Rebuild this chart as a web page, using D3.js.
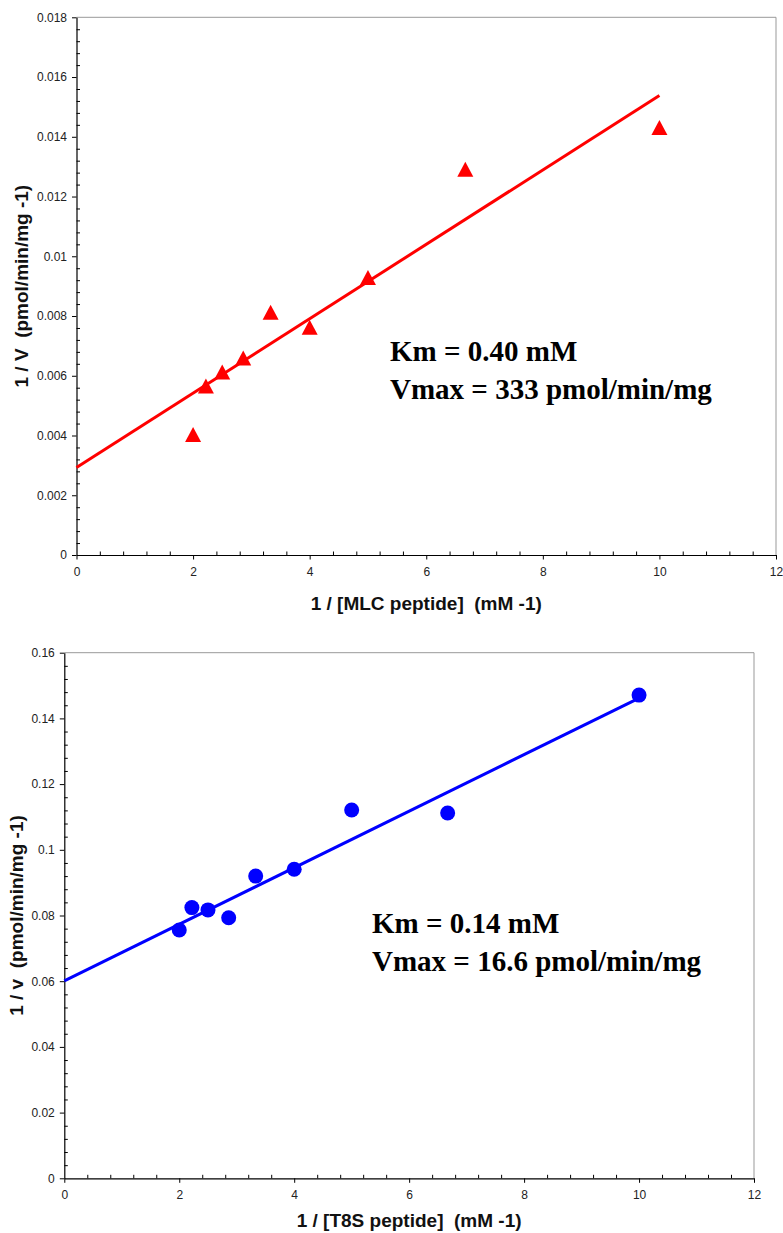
<!DOCTYPE html>
<html><head><meta charset="utf-8">
<script src="https://cdn.jsdelivr.net/npm/d3@7"></script>
<style>
body{margin:0;background:#fff;}
svg{display:block;}
.tick text{font-family:"Liberation Sans",Arial,sans-serif;font-size:12px;fill:#222;}
.atitle{font-family:"Liberation Sans",Arial,sans-serif;font-size:19px;font-weight:bold;fill:#111;}
.annot{font-family:"Liberation Serif","Times New Roman",serif;font-size:29px;font-weight:bold;fill:#000;}
</style>
</head><body>
<svg id="chart" width="783" height="1233"></svg>
<script>
// ---- Data ----
const xValsMLC = [2, 2.22, 2.5, 2.86, 3.33, 4, 5, 6.67, 10];
const yValsMLC = [0.0040, 0.00562, 0.00609, 0.00656, 0.00809, 0.00759, 0.00926, 0.01288, 0.01428];
const fitMLC = [[0, 0.00293], [10, 0.01538]];
const xTicksMLC = [0, 2, 4, 6, 8, 10, 12];
const yTicksMLC = [0, 0.002, 0.004, 0.006, 0.008, 0.01, 0.012, 0.014, 0.016, 0.018];
const annotMLC = ["Km = 0.40 mM", "Vmax = 333 pmol/min/mg"];

const xValsT8S = [2, 2.22, 2.5, 2.86, 3.33, 4, 5, 6.67, 10];
const yValsT8S = [0.0756, 0.0824, 0.0817, 0.0793, 0.0920, 0.0941, 0.1121, 0.1112, 0.1471];
const fitT8S = [[0, 0.0601], [10, 0.1462]];
const xTicksT8S = [0, 2, 4, 6, 8, 10, 12];
const yTicksT8S = [0, 0.02, 0.04, 0.06, 0.08, 0.1, 0.12, 0.14, 0.16];
const annotT8S = ["Km = 0.14 mM", "Vmax = 16.6 pmol/min/mg"];

const svg = d3.select("#chart");

function panel(cfg){
  const g = svg.append("g");
  const x = d3.scaleLinear().domain([0,12]).range([cfg.x0, cfg.x1]);
  const y = d3.scaleLinear().domain([0,cfg.ymax]).range([cfg.y0, cfg.y1]);
  g.append("line").attr("x1",cfg.x0).attr("x2",cfg.x1).attr("y1",cfg.y1).attr("y2",cfg.y1).attr("stroke","#999").attr("stroke-width",1);
  g.append("line").attr("x1",cfg.x1).attr("x2",cfg.x1).attr("y1",cfg.y1).attr("y2",cfg.y0).attr("stroke","#999").attr("stroke-width",1);
  const xMinor = d3.range(0, 12.0001, 0.4).filter(v => Math.abs(v/2 - Math.round(v/2)) > 1e-6);
  const yMinor = d3.range(0, cfg.ymax*1.0001, cfg.yminor).filter(v => Math.abs(v/cfg.ystep - Math.round(v/cfg.ystep)) > 1e-6);
  g.append("g").attr("transform",`translate(0,${cfg.y0})`)
    .call(d3.axisTop(x).tickValues(xMinor).tickSize(3.5).tickFormat(""))
    .call(s=>s.select(".domain").remove()).selectAll("line").attr("stroke","#000");
  g.append("g").attr("transform",`translate(${cfg.x0},0)`)
    .call(d3.axisRight(y).tickValues(yMinor).tickSize(3.5).tickFormat(""))
    .call(s=>s.select(".domain").remove()).selectAll("line").attr("stroke","#000");
  const xa = g.append("g").attr("transform",`translate(0,${cfg.y0})`)
    .call(d3.axisBottom(x).tickValues(cfg.xTicks).tickSize(4.5).tickSizeOuter(0).tickPadding(8).tickFormat(d3.format("d")));
  const ya = g.append("g").attr("transform",`translate(${cfg.x0},0)`)
    .call(d3.axisLeft(y).tickValues(cfg.yTicks).tickSize(4.5).tickSizeOuter(0).tickPadding(5).tickFormat(d => d===0 ? "0" : String(+d.toFixed(4))));
  [xa,ya].forEach(a=>{a.select(".domain").attr("stroke","#000").attr("stroke-width",1.2);a.selectAll(".tick line").attr("stroke","#000");});
  g.append("line")
    .attr("x1",x(cfg.fit[0][0])).attr("y1",y(cfg.fit[0][1]))
    .attr("x2",x(cfg.fit[1][0])).attr("y2",y(cfg.fit[1][1]))
    .attr("stroke",cfg.color).attr("stroke-width",3);
  const pts = cfg.xs.map((v,i)=>[v,cfg.ys[i]]);
  if(cfg.marker==="triangle"){
    g.selectAll("path.m").data(pts).enter().append("path")
      .attr("d", d => { const cx=x(d[0]), cy=y(d[1]); return `M${cx},${cy-8.5}L${cx+8},${cy+6.5}L${cx-8},${cy+6.5}Z`; })
      .attr("fill",cfg.color);
  } else {
    g.selectAll("circle.m").data(pts).enter().append("circle")
      .attr("cx",d=>x(d[0])).attr("cy",d=>y(d[1])).attr("r",7.5).attr("fill",cfg.color);
  }
  g.append("text").attr("class","atitle").attr("x",(cfg.x0+cfg.x1)/2).attr("y",cfg.xTitleY)
    .attr("text-anchor","middle").attr("xml:space","preserve").text(cfg.xTitle);
  g.append("text").attr("class","atitle").attr("transform",`translate(${cfg.yTitleX},${(cfg.y0+cfg.y1)/2}) rotate(-90)`)
    .attr("text-anchor","middle").attr("xml:space","preserve").text(cfg.yTitle);
  cfg.annot.forEach((t,i)=>{
    g.append("text").attr("class","annot").attr("x",cfg.annX).attr("y",cfg.annY + i*38).text(t);
  });
}

panel({x0:76.5,x1:776,y0:555,y1:17.3,ymax:0.018,ystep:0.002,yminor:0.0004,
  xTicks:xTicksMLC,yTicks:yTicksMLC,xs:xValsMLC,ys:yValsMLC,fit:fitMLC,color:"#ff0000",marker:"triangle",
  xTitle:"1 / [MLC peptide]  (mM -1)", xTitleY:610, yTitle:"1 / V  (pmol/min/mg -1)", yTitleX:28,
  annot:annotMLC, annX:390, annY:361});

panel({x0:64.3,x1:754,y0:1178.3,y1:652.7,ymax:0.16,ystep:0.02,yminor:0.004,
  xTicks:xTicksT8S,yTicks:yTicksT8S,xs:xValsT8S,ys:yValsT8S,fit:fitT8S,color:"#0000ff",marker:"circle",
  xTitle:"1 / [T8S peptide]  (mM -1)", xTitleY:1227, yTitle:"1 / v  (pmol/min/mg -1)", yTitleX:23,
  annot:annotT8S, annX:372, annY:933});
</script>
</body></html>
